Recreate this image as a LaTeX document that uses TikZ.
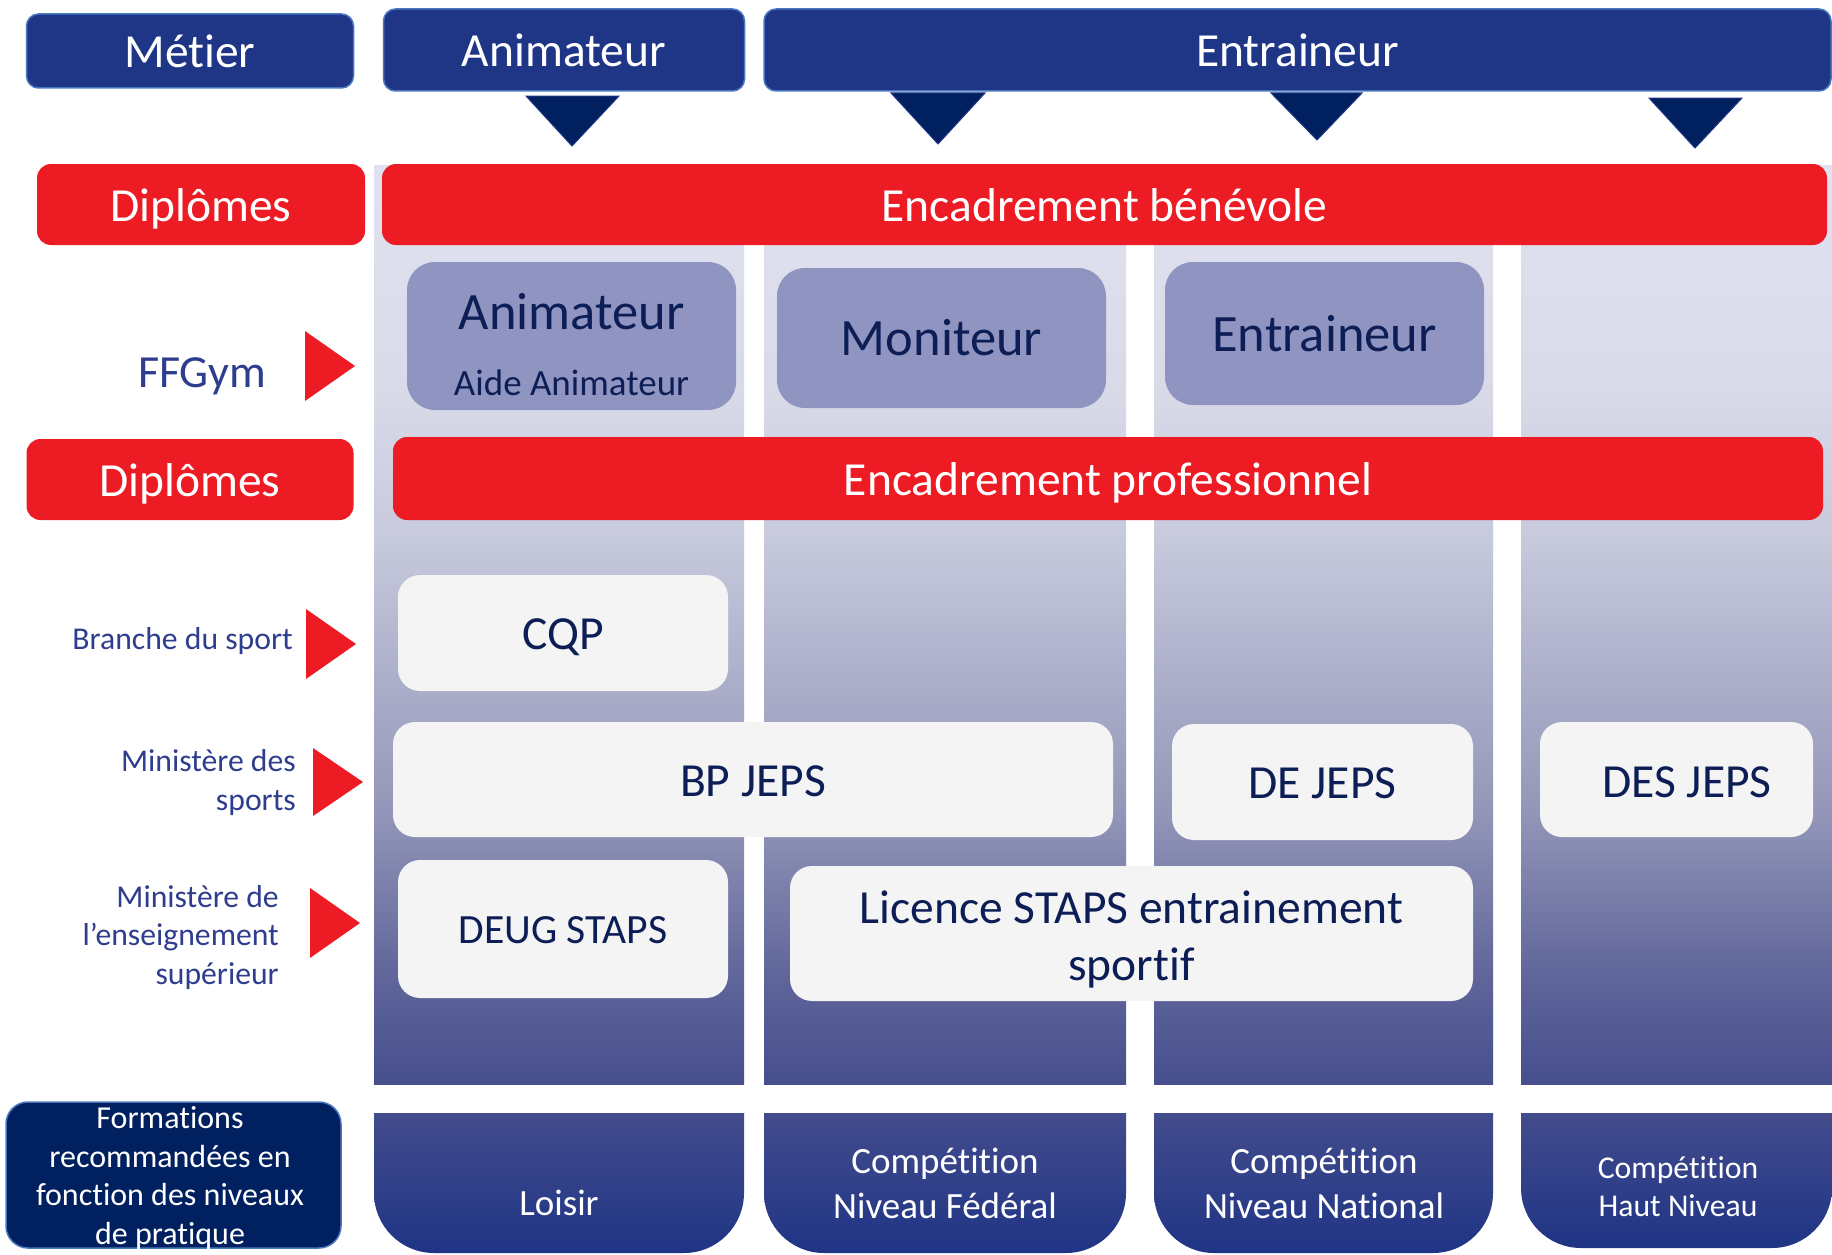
\documentclass[tikz,border=0pt]{standalone}
\usepackage{fontspec}
\setmainfont{Carlito}[Ligatures=NoCommon]
\usepackage{xcolor}
\usepackage{tikz}
\usetikzlibrary{positioning}
\definecolor{hdrblue}{HTML}{1F3585}
\definecolor{hdrline}{HTML}{4A78C0}
\definecolor{navy}{HTML}{002060}
\definecolor{ffred}{HTML}{ED1C24}
\definecolor{lavender}{HTML}{9094C0}
\definecolor{boxwhite}{HTML}{F4F4F4}
\definecolor{txtnavy}{HTML}{0C1E55}
\definecolor{lblblue}{HTML}{2E3D8E}
\definecolor{colA}{HTML}{464E8D}
\definecolor{colB}{HTML}{60669A}
\definecolor{colC}{HTML}{9497B9}
\definecolor{colD}{HTML}{C8CADD}
\definecolor{colE}{HTML}{D8DAE8}
\definecolor{colF}{HTML}{E0E2EF}
\definecolor{tabtop}{HTML}{434C8C}
\definecolor{tabbot}{HTML}{1F3485}
\pgfdeclareverticalshading{colgrad}{100bp}{color(0bp)=(colA); color(25bp)=(colA); color(31bp)=(colB); color(40bp)=(colC); color(55bp)=(colD); color(62.5bp)=(colE); color(75bp)=(colF); color(100bp)=(colF)}
\tikzstyle{header} = [rectangle, rounded corners=12pt, fill=hdrblue, draw=hdrline, line width=1.5pt, text=white, inner sep=0pt, text height=45pt, text depth=12pt, font=\fontsize{47.5}{57}\selectfont]
\tikzstyle{redbar} = [rectangle, rounded corners=14pt, fill=ffred, text=white, inner sep=0pt, text height=45pt, text depth=12pt, font=\fontsize{47.5}{57}\selectfont]
\tikzstyle{ffbox} = [rectangle, rounded corners=28pt, fill=lavender, inner sep=0pt]
\tikzstyle{fftext} = [text=txtnavy, inner sep=0pt]
\tikzstyle{diploma} = [rectangle, rounded corners=22pt, fill=boxwhite, text=txtnavy, inner sep=0pt, text height=45pt, text depth=12pt, font=\fontsize{47.5}{57}\selectfont]
\tikzstyle{diplotext} = [text=txtnavy, inner sep=0pt, align=center, font=\fontsize{47.5}{57}\selectfont]
\tikzstyle{pointer} = [fill=navy, draw=hdrblue, line width=1pt]
\tikzstyle{redtip} = [fill=ffred]
\tikzstyle{column} = [shading=colgrad]
\tikzstyle{level} = [top color=tabtop, bottom color=tabbot]
\tikzstyle{leveltext} = [text=white, align=center, inner sep=0pt, font=\fontsize{37}{45}\selectfont]
\tikzstyle{sidelabel} = [text=lblblue, align=right, anchor=east, inner sep=0pt, font=\fontsize{31.7}{38.6}\selectfont]

\begin{document}
\begin{tikzpicture}[x=1pt, y=-1pt]
    \useasboundingbox (0,0) rectangle (1832,1255);

    % Columns
    \shade[column] (374,165) rectangle (744,1084);
    \shade[column] (764,165) rectangle (1126,1084);
    \shade[column] (1154,165) rectangle (1493,1084);
    \shade[column] (1521,165) rectangle (1832,1084);

    % Header row
    \node[header, minimum width=327pt, minimum height=74pt] (metier) at (190,51) {Métier};
    \node[header, minimum width=361pt, minimum height=82pt] (hanim) at (564,50) {Animateur};
    \node[header, minimum width=1067pt, minimum height=82pt] (hentr) at (1297.5,50) {Entraineur};

    % Pointers
    \draw[pointer] (526,96) -- (619,96) -- (572,146) -- cycle;
    \draw[pointer] (891,93) -- (985,93) -- (938,144) -- cycle;
    \draw[pointer] (1271,93) -- (1362,93) -- (1317,140) -- cycle;
    \draw[pointer] (1649,98) -- (1742,98) -- (1695,148) -- cycle;

    % Red bars
    \node[redbar, minimum width=328pt, minimum height=81pt] (dipl1) at (201,204.5) {Diplômes};
    \node[redbar, minimum width=1445pt, minimum height=81pt] (benevole) at (1104.5,204.5) {Encadrement bénévole};
    \node[redbar, minimum width=327pt, minimum height=81pt] (dipl2) at (190,479.5) {Diplômes};
    \node[redbar, minimum width=1430pt, minimum height=83pt] (pro) at (1108,478.5) {Encadrement professionnel};

    % FFGym
    \node[ffbox, minimum width=329pt, minimum height=148pt] (ffanim) at (571.5,336) {};
    \node[fftext, font=\fontsize{52.5}{60}\selectfont] (ffanimtxt) at (571.5,312) {Animateur};
    \node[fftext, font=\fontsize{37}{45}\selectfont] (ffaide) at (571.5,383) {Aide Animateur};
    \node[ffbox, fftext, minimum width=329pt, minimum height=140pt, font=\fontsize{52.5}{60}\selectfont] (ffmoni) at (941.5,338) {Moniteur};
    \node[ffbox, fftext, minimum width=319pt, minimum height=143pt, font=\fontsize{52.5}{60}\selectfont] (ffentr) at (1324.5,333.5) {Entraineur};
    \node[text=lblblue, inner sep=0pt, font=\fontsize{46}{55}\selectfont] (ffgym) at (202,376.5) {FFGym};
    \fill[redtip] (305,331) -- (355,366) -- (305,401) -- cycle;

    % Diplomas
    \node[diploma, minimum width=330pt, minimum height=116pt] (cqp) at (563,633) {CQP};
    \node[diploma, minimum width=720pt, minimum height=115pt] (bpjeps) at (753,779.5) {BP JEPS};
    \node[diploma, minimum width=301pt, minimum height=116pt] (dejeps) at (1322.5,782) {DE JEPS};
    \node[diploma, minimum width=273pt, minimum height=115pt] (desjeps) at (1676.5,779.5) {};
    \node[diplotext] (desjepstxt) at (1687,782) {DES JEPS};
    \node[diploma, minimum width=330pt, minimum height=138pt, text height=39.5pt, text depth=10.4pt, font=\fontsize{41.6}{50}\selectfont] (deug) at (563,929) {DEUG STAPS};
    \node[diploma, minimum width=683pt, minimum height=135pt] (licence) at (1131.5,933.5) {};
    \node[diplotext] (licencetxt) at (1131.5,939.5) {Licence STAPS entrainement\\sportif};

    % Side labels
    \node[sidelabel] (branche) at (293,641.5) {Branche du sport};
    \fill[redtip] (306,609) -- (356,644) -- (306,679) -- cycle;
    \node[sidelabel] (minsport) at (296,782.5) {Ministère des\\sports};
    \fill[redtip] (313,748) -- (363,782) -- (313,816) -- cycle;
    \node[sidelabel] (minsup) at (279,937.5) {Ministère de\\l’enseignement\\supérieur};
    \fill[redtip] (310,888) -- (360,923) -- (310,958) -- cycle;

    % Practice levels
    \node[rectangle, rounded corners=22pt, fill=navy, draw=hdrline, line width=1.5pt, minimum width=335pt, minimum height=146pt] (formbox) at (173.5,1175) {};
    \node[leveltext, font=\fontsize{32}{38.6}\selectfont] (formtxt) at (170,1178) {Formations\\recommandées en\\fonction des niveaux\\de pratique};
    \shade[level] (374,1113) rectangle (744,1190) [rounded corners=60pt] (374,1113) rectangle (744,1253);
    \shade[level] (764,1113) rectangle (1126,1190) [rounded corners=60pt] (764,1113) rectangle (1126,1253);
    \shade[level] (1154,1113) rectangle (1493,1190) [rounded corners=60pt] (1154,1113) rectangle (1493,1253);
    \shade[level] (1521,1113) rectangle (1832,1190) [rounded corners=60pt] (1521,1113) rectangle (1832,1248);
    \node[leveltext] (loisir) at (559,1203) {Loisir};
    \node[leveltext] (federal) at (945,1183.5) {Compétition\\Niveau Fédéral};
    \node[leveltext] (national) at (1324,1183.5) {Compétition\\Niveau National};
    \node[leveltext, font=\fontsize{31.7}{38}\selectfont] (haut) at (1678,1186.5) {Compétition\\Haut Niveau};
\end{tikzpicture}
\end{document}
